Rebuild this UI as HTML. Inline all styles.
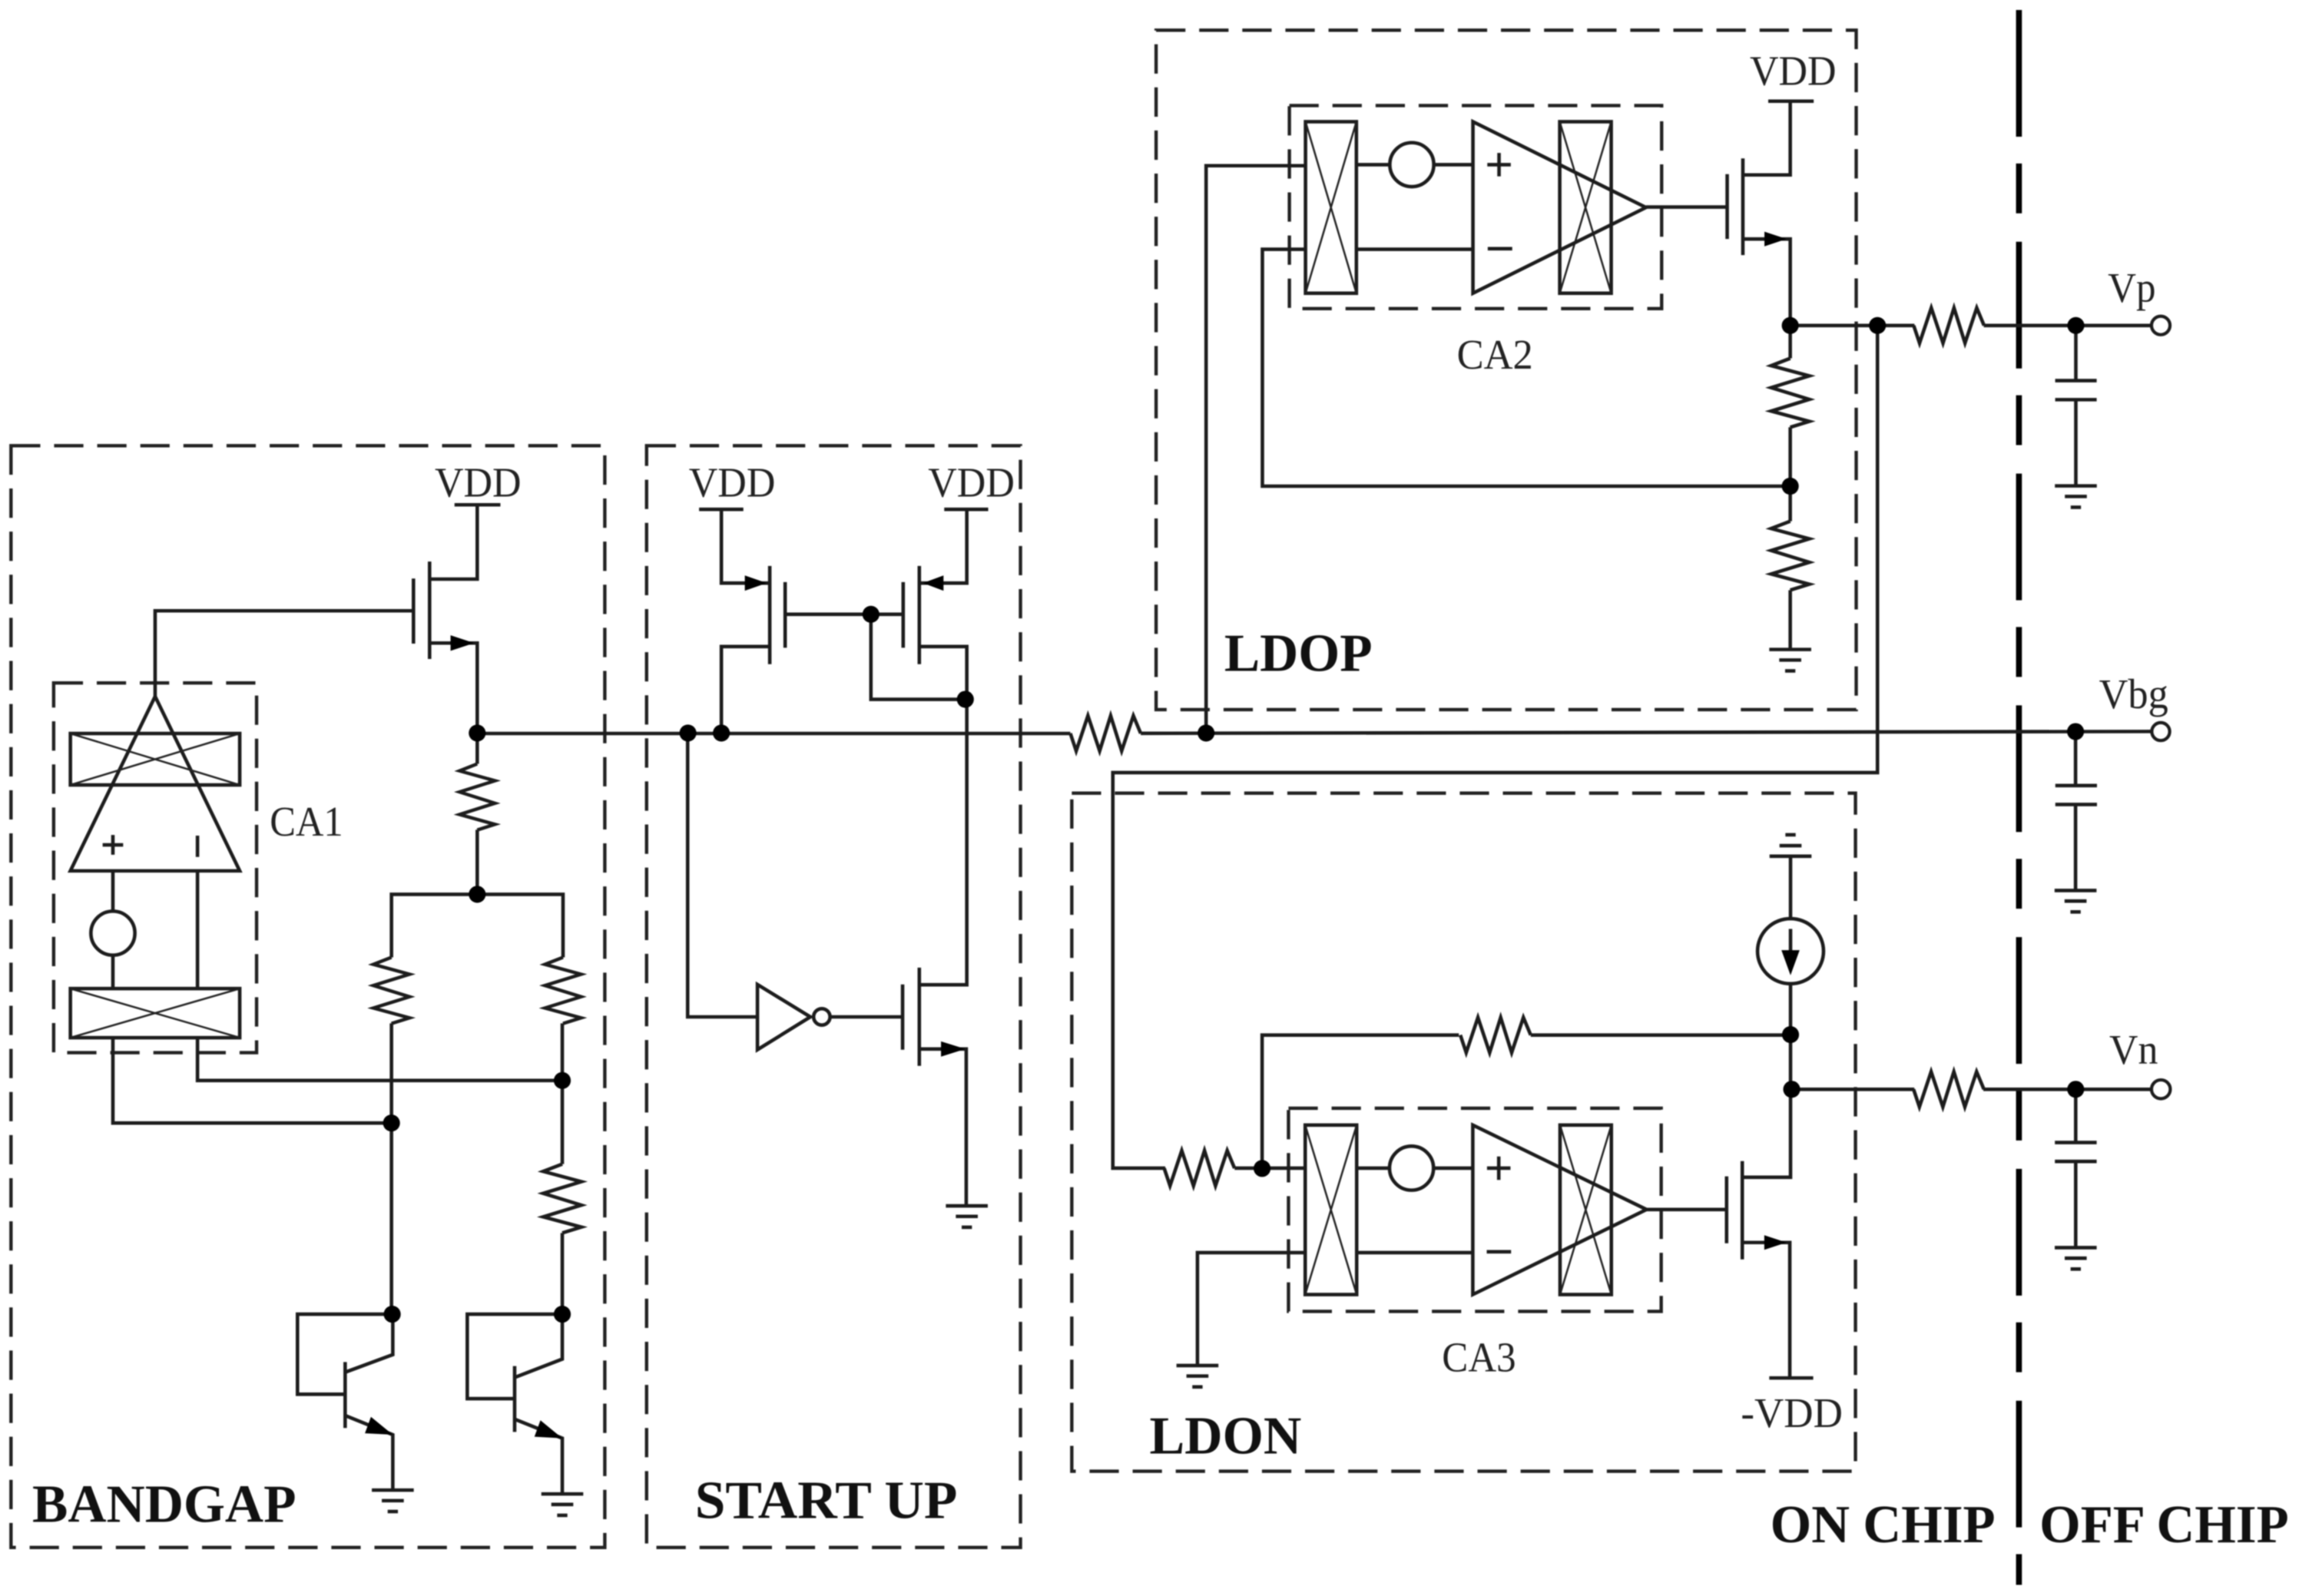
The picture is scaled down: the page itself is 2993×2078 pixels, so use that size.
<!DOCTYPE html>
<html>
<head>
<meta charset="utf-8">
<style>
html,body{margin:0;padding:0;background:#fff;width:2993px;height:2078px;overflow:hidden}
svg{display:block;filter:blur(0.7px)}
text{font-family:"Liberation Serif",serif;fill:#222}
.b{font-weight:bold;font-size:36.5px;fill:#111}
.t{font-size:29px}
.w{fill:none;stroke:#1c1c1c;stroke-width:2.4;stroke-linejoin:miter}
.d{fill:none;stroke:#222;stroke-width:2.3;stroke-dasharray:20 9.4}
.x{fill:none;stroke:#222;stroke-width:1.3}
.f{fill:#000;stroke:none}
</style>
</head>
<body>
<svg width="2993" height="2078" viewBox="0 0 1568 1088.6" xmlns="http://www.w3.org/2000/svg">
<defs>
<g id="gnd" class="w"><path d="M-14.3 0H14.3"/><path d="M-7.5 7.2H7.5" stroke-width="2.4"/><path d="M-3.5 14.6H3.5" stroke-width="2.4"/></g>
<path id="rv" class="w" d="M0 0L-13 5L13 12L-13 20L13 28L-13 36L13 43L0 47"/>
<path id="rh" class="w" d="M0 0L4 12L12 -12L20 12L27.5 -12L35 12L43 -12L48 0"/>
</defs>
<rect width="1568" height="1088.6" fill="#fff"/>

<!-- dashed boxes -->
<rect class="d" x="7.5" y="304" width="405" height="751.5"/>
<rect class="d" x="441" y="304" width="255" height="751.5"/>
<rect class="d" x="788.5" y="20.6" width="477.5" height="463.4"/>
<rect class="d" x="731" y="541" width="534.5" height="462.5"/>
<rect class="d" x="36.6" y="465.8" width="138.4" height="252.2"/>
<rect class="d" x="879.4" y="72" width="253.9" height="138.5"/>
<rect class="d" x="878.8" y="755.9" width="254.2" height="138.6"/>

<!-- divider -->
<path d="M1377 6.8V1081" fill="none" stroke="#000" stroke-width="4" stroke-dasharray="86.4 18.3 34 19.4"/>

<!-- BANDGAP -->
<path class="w" d="M310 344.3H341.3M325.5 344.3V395H293"/>
<path class="w" d="M282 394.6V439"/>
<path class="w" d="M293 383V449.5" stroke-width="2.8"/>
<path class="w" d="M105.8 475V416.6H282"/>
<path class="w" d="M293 438.6H325.5V521M325.5 566V610M267 653V610H384V653"/>
<polygon class="f" points="323.4,438.6 307.3,433.3 307.3,443.9"/>
<use href="#rv" transform="translate(325.5 521) scale(.93 .96)"/>
<use href="#rv" transform="translate(267 653) scale(.95 .96)"/>
<use href="#rv" transform="translate(384 653) scale(.95 .96)"/>
<path class="w" d="M267 698V896.4"/>
<path class="w" d="M383.5 698V794M383.5 841V896.4"/>
<use href="#rv" x="383.5" y="794"/>
<!-- CA1 -->
<path class="w" d="M105.8 475L48 594H163.5Z"/>
<rect class="w" x="48" y="500.3" width="115.5" height="35.1"/>
<path class="x" d="M48 500.3L163.5 535.4M163.5 500.3L48 535.4"/>
<rect class="w" x="48" y="674.3" width="115.5" height="33.5"/>
<path class="x" d="M48 674.3L163.5 707.8M163.5 674.3L48 707.8"/>
<circle class="w" cx="77" cy="636.5" r="15"/>
<path class="w" d="M77 594V621.5M77 651.5V674.3M134.7 594V674.3"/>
<path class="w" d="M70 576.3H84M77 569.5V583M134.7 570V584.5"/>
<path class="w" d="M77 707.8V766H267M134.7 707.8V737H383.5"/>
<!-- BJT -->
<path class="w" d="M267.5 896.4H202.9V951H235.4"/>
<path class="w" d="M235.4 929V974" stroke-width="2.8"/>
<path class="w" d="M235.4 936L267.9 924V896M235.4 965.5L267.9 978.6V1016.4"/>
<polygon class="f" points="267.9,978.6 253,966.4 248.9,977.6"/>
<use href="#gnd" x="267.9" y="1016.4"/>
<path class="w" d="M383.5 896.4H318.7V954H351"/>
<path class="w" d="M351 931.8V976.7" stroke-width="2.8"/>
<path class="w" d="M351 939.6L383.5 927V896M351 968L383.5 981V1019"/>
<polygon class="f" points="383.5,981 368.6,968.8 364.5,980"/>
<use href="#gnd" x="383.5" y="1019"/>

<!-- main bus -->
<path class="w" d="M325.5 500.3H730"/>
<use href="#rh" x="730" y="500.2"/>
<path class="w" d="M778 500.2L1470 498.9"/>

<!-- START UP -->
<path class="w" d="M476.8 347.4H507M492 347.4V397.7H525"/>
<polygon class="f" points="522.9,397.7 508,392.5 508,402.9"/>
<path class="w" d="M525 386V453" stroke-width="2.8"/>
<path class="w" d="M535.5 397V441.8"/>
<path class="w" d="M525 441H492V500M535.5 419H616"/>
<path class="w" d="M644 347.4H674M659.4 347.4V397.7H627"/>
<polygon class="f" points="629.5,397.7 643.5,392.5 643.5,402.9"/>
<path class="w" d="M627 386V453" stroke-width="2.8"/>
<path class="w" d="M616 397V441.8"/>
<path class="w" d="M627 441H659.4V671.7H627"/>
<path class="w" d="M594 419V477H659"/>
<path class="w" d="M469 500V693.6H516.6"/>
<path class="w" d="M516.6 671.5L552.7 693.6L516.6 716Z"/>
<circle class="w" cx="560.5" cy="693.6" r="5.6"/>
<path class="w" d="M566 693.6H615.6M615.6 671.5V716"/>
<path class="w" d="M627 660V727" stroke-width="2.8"/>
<path class="w" d="M627 715.5H659V822.5"/>
<polygon class="f" points="658.4,715.5 641.8,710.3 641.8,720.7"/>
<use href="#gnd" x="659.4" y="822.5"/>

<!-- LDOP -->
<path class="w" d="M822.6 500V113H890.4"/>
<path class="w" d="M890.4 170H861V331.6H1221"/>
<rect class="w" x="890.4" y="83" width="34.7" height="117"/>
<path class="x" d="M890.4 83L925.1 200M925.1 83L890.4 200"/>
<rect class="w" x="1063.8" y="83" width="35.1" height="117"/>
<path class="x" d="M1063.8 83L1098.9 200M1098.9 83L1063.8 200"/>
<path class="w" d="M1004.6 83L1122.6 141.5L1004.6 200Z"/>
<circle class="w" cx="962.9" cy="112.3" r="15"/>
<path class="w" d="M925.1 112.3H947.9M977.9 112.3H1004.6M925.1 170H1004.6"/>
<path class="w" d="M1014.4 112.3H1030.4M1022.4 104.3V120.3M1014.7 169.6H1031.4"/>
<path class="w" d="M1122.6 141.2H1178M1178 118.8V163"/>
<path class="w" d="M1188.7 108V174" stroke-width="2.8"/>
<path class="w" d="M1206 69H1237M1221 69V119.3H1188.7"/>
<path class="w" d="M1188.7 163H1221V244.4"/>
<polygon class="f" points="1218.5,163 1203.4,158 1203.4,168"/>
<use href="#rv" x="1221" y="244.4"/>
<path class="w" d="M1221 291.4V355.5"/>
<use href="#rv" x="1221" y="355.5"/>
<path class="w" d="M1221 402.5V443"/>
<use href="#gnd" x="1221" y="443"/>
<path class="w" d="M1221 222H1305.7"/>
<use href="#rh" x="1305.2" y="222"/>
<path class="w" d="M1353 222H1468"/>
<circle cx="1473.7" cy="222" r="6.3" fill="#fff" stroke="#1c1c1c" stroke-width="2.2"/>
<path class="w" d="M1415.8 222V259.6M1401.7 259.6H1430M1401.7 272.6H1430M1415.8 272.6V331.4"/>
<use href="#gnd" x="1415.8" y="331.4"/>

<!-- Vbg -->
<circle cx="1473.7" cy="499" r="6.1" fill="#fff" stroke="#1c1c1c" stroke-width="2.2"/>
<path class="w" d="M1415.6 499V535.8M1401.8 535.8H1430.2M1401.8 548.7H1430.2M1415.6 548.7V607.4"/>
<use href="#gnd" x="1415.6" y="607.4"/>

<!-- feedback -->
<path class="w" d="M1280.5 222V527H759V796.8H794.7"/>
<use href="#rh" x="794" y="796.8"/>

<!-- LDON -->
<path class="w" d="M842 796.8H890.2M860.8 796.8V706H995"/>
<use href="#rh" x="996" y="706"/>
<path class="w" d="M1044 706H1221.2"/>
<rect class="w" x="890.2" y="767.4" width="35.1" height="115.6"/>
<path class="x" d="M890.2 767.4L925.3 883M925.3 767.4L890.2 883"/>
<rect class="w" x="1064" y="767.4" width="35" height="115.6"/>
<path class="x" d="M1064 767.4L1099 883M1099 767.4L1064 883"/>
<path class="w" d="M1004.5 767.4L1123 825L1004.5 883Z"/>
<circle class="w" cx="962.7" cy="796.8" r="15"/>
<path class="w" d="M925.3 796.8H947.7M977.7 796.8H1004.5M925.3 854.4H1004.5"/>
<path class="w" d="M1014.2 796.8H1030.2M1022.2 788.8V804.8M1014 853.8H1030.6"/>
<path class="w" d="M890.2 854.4H816.7V931.4"/>
<use href="#gnd" x="816.7" y="931.4"/>
<path class="w" d="M1123 825H1177.6M1177.6 802.4V848"/>
<path class="w" d="M1188.3 792V859" stroke-width="2.8"/>
<path class="w" d="M1188.3 803H1221.2V671"/>
<path class="w" d="M1188.3 847.5H1220.7V939.9M1206.7 939.9H1236.7"/>
<polygon class="f" points="1218.4,847.5 1203.3,842.5 1203.3,852.5"/>
<use href="#gnd" transform="translate(1221.2 584) scale(1 -1)"/>
<path class="w" d="M1221.2 584V626.6"/>
<ellipse class="w" cx="1221.2" cy="648.8" rx="22.5" ry="22.2"/>
<path class="w" d="M1221.2 633.6V650"/>
<polygon class="f" points="1221.2,665.2 1215,648.1 1227.4,648.1"/>
<path class="w" d="M1222 743H1305.6"/>
<use href="#rh" x="1305.1" y="743"/>
<path class="w" d="M1352.7 743H1468"/>
<circle cx="1473.8" cy="743" r="6.4" fill="#fff" stroke="#1c1c1c" stroke-width="2.2"/>
<path class="w" d="M1415.7 743V779.3M1401.5 779.3H1430M1401.5 792.2H1430M1415.7 792.2V851"/>
<use href="#gnd" x="1415.7" y="851"/>

<!-- nodes -->
<g class="f">
<circle cx="325.5" cy="500" r="5.8"/><circle cx="325.5" cy="610" r="5.8"/>
<circle cx="267" cy="766" r="5.8"/><circle cx="383.5" cy="737" r="5.8"/>
<circle cx="267.5" cy="896.4" r="5.8"/><circle cx="383.5" cy="896.4" r="5.8"/>
<circle cx="469.2" cy="500" r="5.8"/><circle cx="492" cy="500" r="5.8"/>
<circle cx="594" cy="419" r="5.8"/><circle cx="658.4" cy="477" r="5.8"/>
<circle cx="822.6" cy="500" r="5.8"/><circle cx="1221" cy="222" r="5.8"/>
<circle cx="1280.5" cy="222" r="5.8"/><circle cx="1415.8" cy="222" r="5.8"/>
<circle cx="1221" cy="331.6" r="5.8"/><circle cx="1415.6" cy="499" r="5.8"/>
<circle cx="1221.2" cy="705.7" r="5.8"/><circle cx="1222" cy="743" r="5.8"/>
<circle cx="1415.7" cy="743" r="5.8"/><circle cx="860.8" cy="797" r="5.8"/>
</g>

<!-- labels -->
<text class="t" x="296.5" y="338.7" textLength="59" lengthAdjust="spacingAndGlyphs">VDD</text>
<text class="t" x="469.8" y="338.8" textLength="59" lengthAdjust="spacingAndGlyphs">VDD</text>
<text class="t" x="633" y="338.8" textLength="59" lengthAdjust="spacingAndGlyphs">VDD</text>
<text class="t" x="1193.4" y="57.8" textLength="59" lengthAdjust="spacingAndGlyphs">VDD</text>
<text class="t" x="1187.3" y="973.5" textLength="69.5" lengthAdjust="spacingAndGlyphs">-VDD</text>
<text class="t" x="184" y="570" textLength="50" lengthAdjust="spacingAndGlyphs">CA1</text>
<text class="t" x="993.6" y="251.4" textLength="52" lengthAdjust="spacingAndGlyphs">CA2</text>
<text class="t" x="983.5" y="935.3" textLength="50.5" lengthAdjust="spacingAndGlyphs">CA3</text>
<text class="t" x="1437.6" y="205.8" textLength="32.7" lengthAdjust="spacingAndGlyphs">Vp</text>
<text class="t" x="1431.6" y="482.9" textLength="47.2" lengthAdjust="spacingAndGlyphs">Vbg</text>
<text class="t" x="1438.6" y="725.5" textLength="33.2" lengthAdjust="spacingAndGlyphs">Vn</text>
<text class="b" x="22" y="1038" textLength="180" lengthAdjust="spacingAndGlyphs">BANDGAP</text>
<text class="b" x="474" y="1035.5" textLength="179" lengthAdjust="spacingAndGlyphs">START UP</text>
<text class="b" x="835" y="457.5" textLength="101" lengthAdjust="spacingAndGlyphs">LDOP</text>
<text class="b" x="784" y="991.5" textLength="103.6" lengthAdjust="spacingAndGlyphs">LDON</text>
<text class="b" x="1207.4" y="1052" textLength="153.5" lengthAdjust="spacingAndGlyphs">ON CHIP</text>
<text class="b" x="1391" y="1052" textLength="170" lengthAdjust="spacingAndGlyphs">OFF CHIP</text>
</svg>
</body>
</html>
